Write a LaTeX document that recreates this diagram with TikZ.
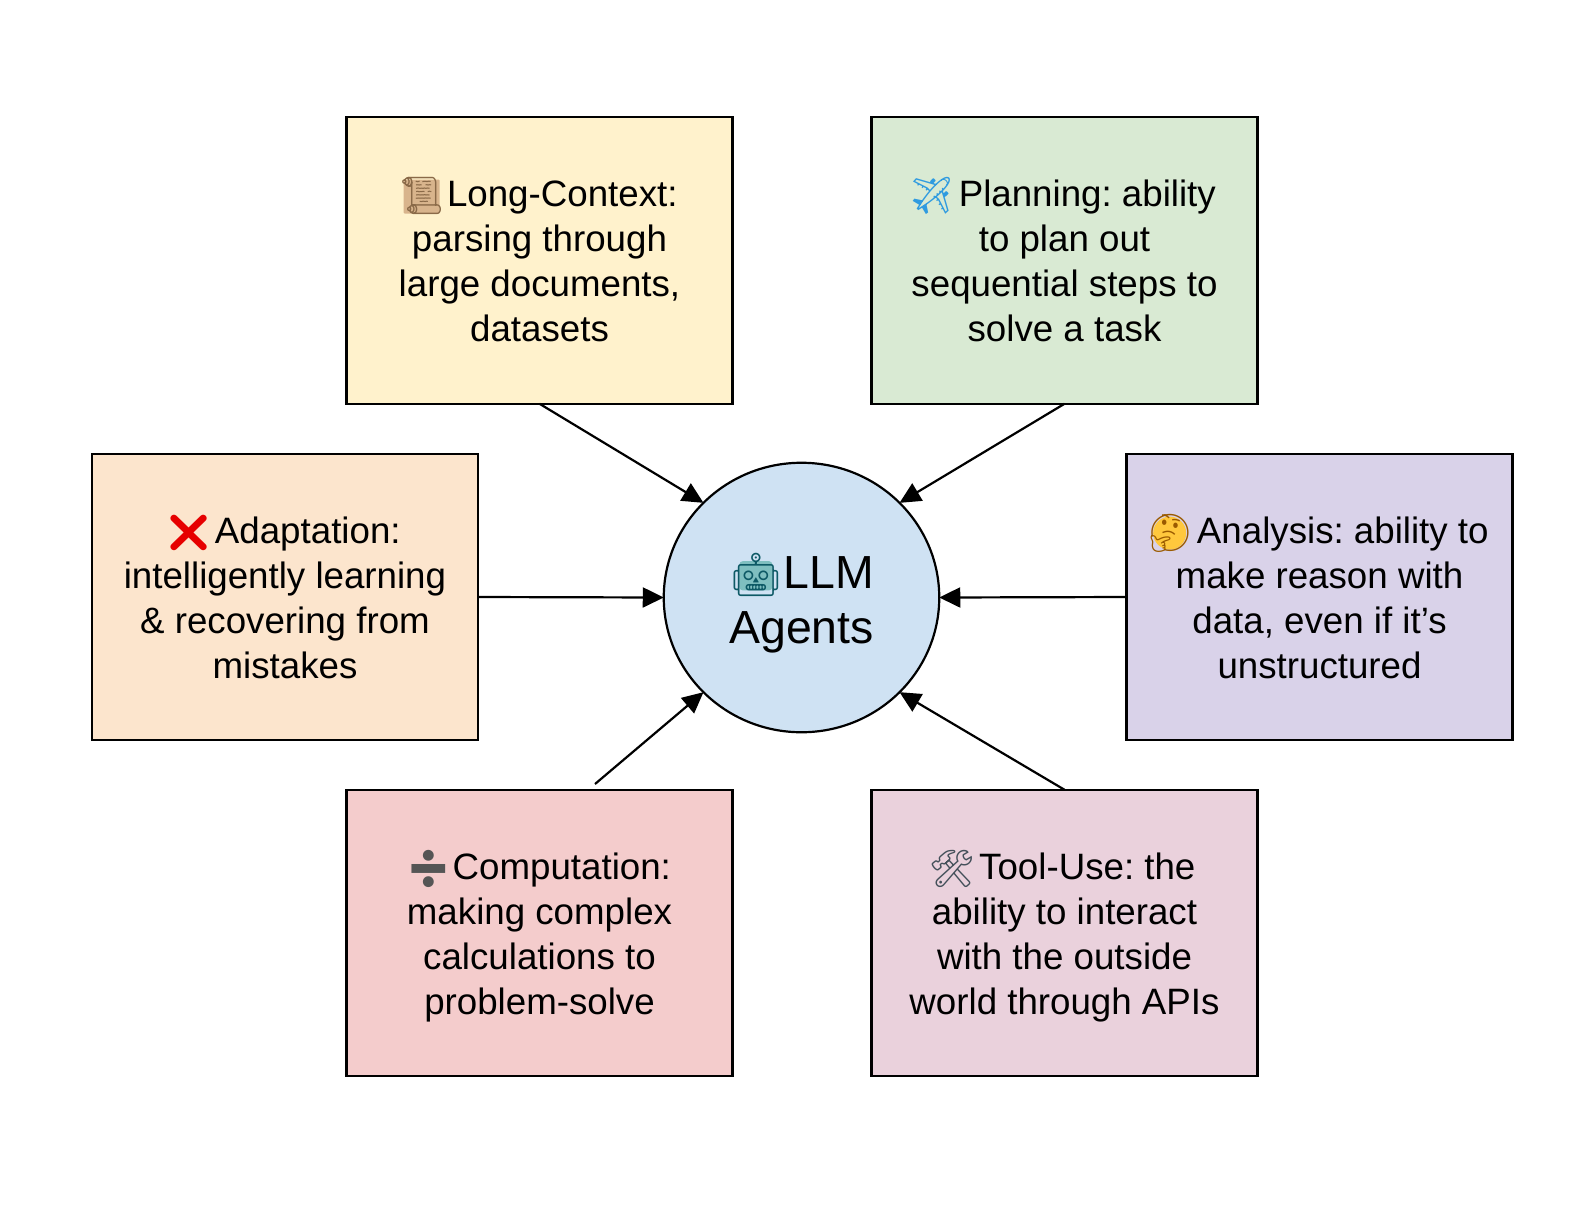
\documentclass[tikz,border=0pt]{standalone}
\usepackage{fontspec}
\usepackage{graphicx}
\setmainfont{Liberation Sans}
\newfontfamily\emojifont{Noto Emoji}
\usetikzlibrary{arrows.meta,shapes.geometric}
\frenchspacing
\definecolor{cyellow}{HTML}{FFF2CC}
\definecolor{cgreen}{HTML}{D9EAD3}
\definecolor{corange}{HTML}{FCE5CD}
\definecolor{cpurple}{HTML}{D9D2E9}
\definecolor{cred}{HTML}{F4CCCC}
\definecolor{cpink}{HTML}{EAD1DC}
\definecolor{cblue}{HTML}{CFE2F3}
\definecolor{scrollfill}{HTML}{D8B48C}
\definecolor{scrollink}{HTML}{8A6A48}
\definecolor{planeink}{HTML}{2F9BE0}
\definecolor{crossink}{HTML}{E60000}
\definecolor{faceink}{HTML}{9A5A00}
\definecolor{facefill}{HTML}{FFC83D}
\definecolor{divink}{HTML}{555555}
\definecolor{toolink}{HTML}{44505A}
\definecolor{robotfill}{HTML}{7FBFC0}
\definecolor{robotink}{HTML}{0E5A66}
% #1 backdrop drawing centred on the glyph, #2 glyph colour, #3 glyph
\newsavebox{\emobox}
\newcommand{\emo}[3]{\sbox{\emobox}{\textcolor{#2}{\emojifont #3}}%
  \smash{\raisebox{-2pt}{\makebox[0pt][l]{\hspace{.5\wd\emobox}\raisebox{.33em}{\tikz[overlay]{#1}}}\usebox{\emobox}}}}
\tikzset{
  x=1pt,y=-1pt,
  card/.style={draw=black,line width=2.2pt,minimum width=386pt,minimum height=286.5pt,inner sep=0pt,outer sep=0pt,align=center,
    font=\fontsize{36.7}{45}\selectfont,text height=162.4pt,text depth=0pt},
  hub/.style={ellipse,draw=black,line width=2.2pt,fill=cblue,minimum width=275.5pt,minimum height=269.5pt,inner sep=0pt,outer sep=0pt,align=center,
    font=\fontsize{46.4}{55}\selectfont,text height=91pt,text depth=0pt},
  link/.style={line width=2.2pt,-{Triangle[length=21pt,width=20pt]}}
}
\begin{document}
\begin{tikzpicture}
\useasboundingbox (0,0) rectangle (1594,1216);
\node[card,fill=cyellow] (long) at (539.5,260.5) {\emo{\fill[scrollfill,rounded corners=1pt] (-18,-17) rectangle (18,17);}{scrollink}{📜}\kern2pt Long-Context:\kern3pt\\parsing through\\large documents,\\datasets};
\node[card,fill=cgreen] (plan) at (1064.5,260.5) {\emo{}{planeink}{✈}\kern4pt Planning: ability\kern5pt\\to plan out\\sequential steps to\\solve a task};
\node[card,fill=corange] (adapt) at (285,597) {\emo{}{crossink}{❌}\kern3pt Adaptation:\kern4pt\\intelligently learning\\\& recovering from\\mistakes};
\node[card,fill=cpurple] (analysis) at (1319.5,597) {\emo{\fill[facefill] (0,0) circle (16.5);}{faceink}{🤔}\kern4pt Analysis: ability to\kern4pt\\make reason with\\data, even if it’s\\unstructured};
\node[card,fill=cred] (comp) at (539.5,933) {\emo{}{divink}{➗}\kern1pt Computation:\kern3pt\\making complex\\calculations to\\problem-solve};
\node[card,fill=cpink] (tool) at (1064.5,933) {\emo{}{toolink}{🛠}\kern4pt Tool-Use: the\kern5pt\\ability to interact\\with the outside\\world through APIs};
\node[hub] (hub) at (801.5,597.5) {\scalebox{0.92}{\emo{\fill[robotfill,rounded corners=4pt] (-18,-16) rectangle (18,16);}{robotink}{🤖}}\kern1pt LLM\\Agents};
\coordinate (compstart) at (595,784);
\draw[link] (long.south) -- (hub.136);
\draw[link] (plan.south) -- (hub.44);
\draw[link] (adapt.east) -- (hub.west);
\draw[link] (analysis.west) -- (hub.east);
\draw[link] (compstart) -- (hub.224);
\draw[link] (tool.north) -- (hub.316);
\end{tikzpicture}
\end{document}
